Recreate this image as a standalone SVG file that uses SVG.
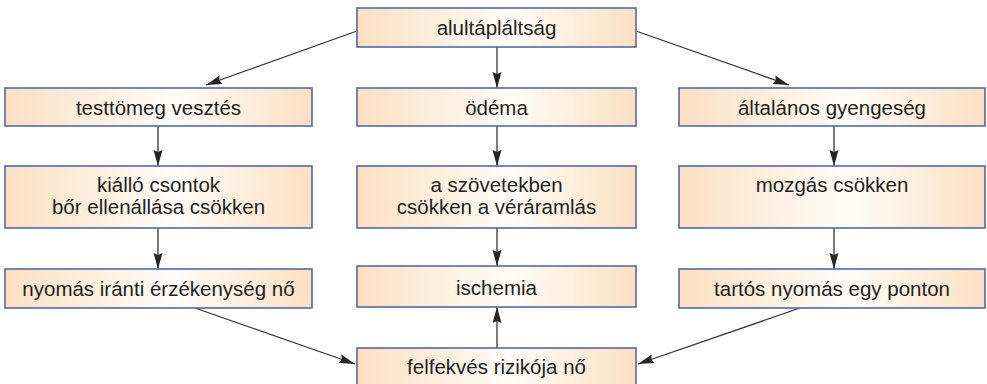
<svg xmlns="http://www.w3.org/2000/svg" width="987" height="384" viewBox="0 0 987 384">
  <defs>
    <linearGradient id="boxFill" x1="0" y1="0" x2="1" y2="0">
      <stop offset="0" stop-color="#fbe0c2"/>
      <stop offset="0.55" stop-color="#fffcf8"/>
      <stop offset="1" stop-color="#fbe0c2"/>
    </linearGradient>
    <marker id="arrow" markerUnits="userSpaceOnUse" markerWidth="17" markerHeight="10" refX="16" refY="4.5" orient="auto">
      <path d="M0,0 L16,4.5 L0,9 L2,4.5 z" fill="#262626"/>
    </marker>
  </defs>
  <style>
    rect.box { fill: url(#boxFill); stroke: #5668a0; stroke-width: 1.6; }
    text { font-family: "Liberation Sans", Arial, sans-serif; font-size: 20.5px; fill: #231f20; text-anchor: middle; }
    #connectors line { stroke: #333333; stroke-width: 1.3; marker-end: url(#arrow); }
  </style>

  <rect width="987" height="384" fill="#ffffff"/>

  <g id="connectors">
    <line x1="357" y1="31" x2="206" y2="85"/>
    <line x1="497" y1="47" x2="497" y2="88"/>
    <line x1="636" y1="31" x2="789" y2="85"/>
    <line x1="158" y1="126" x2="158" y2="166"/>
    <line x1="497" y1="126" x2="497" y2="166"/>
    <line x1="834" y1="126" x2="834" y2="166"/>
    <line x1="158" y1="228" x2="158" y2="269"/>
    <line x1="497" y1="228" x2="497" y2="266"/>
    <line x1="834" y1="228" x2="834" y2="269"/>
    <line x1="497" y1="348" x2="497" y2="307"/>
    <line x1="195" y1="308" x2="355" y2="364"/>
    <line x1="800" y1="308" x2="638" y2="364"/>
  </g>

  <g id="n-alultaplaltsag">
    <rect class="box" x="357" y="8" width="279" height="39"/>
    <text x="496.5" y="34.5">alultápláltság</text>
  </g>
  <g id="n-testtomeg">
    <rect class="box" x="5" y="88" width="307" height="38"/>
    <text x="158.5" y="114.5">testtömeg vesztés</text>
  </g>
  <g id="n-odema">
    <rect class="box" x="357" y="88" width="279" height="38"/>
    <text x="496.5" y="114.5">ödéma</text>
  </g>
  <g id="n-gyengeseg">
    <rect class="box" x="679" y="88" width="306" height="38"/>
    <text x="832" y="114.5">általános gyengeség</text>
  </g>
  <g id="n-csontok">
    <rect class="box" x="5" y="166" width="307" height="62"/>
    <text x="158.5" y="192">kiálló csontok</text>
    <text x="158.5" y="214">bőr ellenállása csökken</text>
  </g>
  <g id="n-szovetek">
    <rect class="box" x="357" y="166" width="279" height="62"/>
    <text x="496.5" y="192">a szövetekben</text>
    <text x="496.5" y="214">csökken a véráramlás</text>
  </g>
  <g id="n-mozgas">
    <rect class="box" x="679" y="166" width="306" height="62"/>
    <text x="832" y="192">mozgás csökken</text>
  </g>
  <g id="n-nyomas">
    <rect class="box" x="5" y="269" width="307" height="39"/>
    <text x="158.5" y="295.5">nyomás iránti érzékenység nő</text>
  </g>
  <g id="n-ischemia">
    <rect class="box" x="357" y="266" width="279" height="41"/>
    <text x="496.5" y="294.5">ischemia</text>
  </g>
  <g id="n-tartos">
    <rect class="box" x="679" y="269" width="306" height="39"/>
    <text x="832" y="295.5">tartós nyomás egy ponton</text>
  </g>
  <g id="n-felfekves">
    <rect class="box" x="357" y="348" width="279" height="40"/>
    <text x="496.5" y="373.5">felfekvés rizikója nő</text>
  </g>
</svg>
